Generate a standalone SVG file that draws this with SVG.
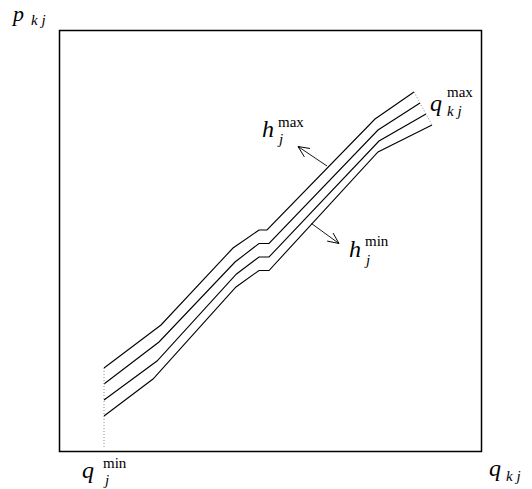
<svg xmlns="http://www.w3.org/2000/svg" width="532" height="489" viewBox="0 0 532 489">
<style>
.frame{fill:none;stroke:#000;stroke-width:1.5}
.curve{fill:none;stroke:#000;stroke-width:1.1;stroke-linejoin:miter}
.dot{fill:none;stroke:#888;stroke-width:1;stroke-dasharray:1,2}
.arr{fill:none;stroke:#000;stroke-width:0.9;marker-end:url(#head)}
.it{font-family:"Liberation Serif","Times New Roman",serif;font-style:italic;font-size:24px;fill:#000}
.sub{font-family:"Liberation Serif","Times New Roman",serif;font-style:italic;font-size:15px;fill:#000}
.sup{font-family:"Liberation Serif","Times New Roman",serif;font-size:15px;fill:#000}
</style>
<defs>
<marker id="head" markerUnits="userSpaceOnUse" markerWidth="14" markerHeight="12" refX="0" refY="0" viewBox="-12 -6 14 12" orient="auto">
<path d="M-11,-5 L0,0 L-11,5" fill="none" stroke="#000" stroke-width="0.9"/>
</marker>
</defs>
<g id="frame"><rect class="frame" x="59.5" y="30.5" width="422" height="421"/></g>
<g id="curves">
<polyline class="curve" points="104,368 161,325 233,248 259,230 267,230 375,119 414,92"/>
<polyline class="curve" points="104,384 159,342 235,262 259,243.5 269,243.5 378,130 420,103"/>
<polyline class="curve" points="104,400 157,361 236.5,274 259,257 269,257 379,141 426,114"/>
<polyline class="curve" points="104,416 153,379 236,287 259,270.5 269,270.5 378,152 432,125"/>
</g>
<g id="connectors">
<line class="dot" x1="104" y1="368" x2="104" y2="448"/>
<polyline class="dot" points="414,92 420,103 426,114 432,125"/>
<line class="arr" x1="327" y1="166" x2="298" y2="146.5"/>
<line class="arr" x1="311.5" y1="223.5" x2="339" y2="243.5"/>
</g>
<g id="label-p">
<text class="it" x="13" y="21" style="font-size:22px">p</text><text class="sub" x="31" y="25">k j</text>
</g>
<g id="label-qmax">
<text class="it" x="430" y="111">q</text><text class="sup" x="447" y="97">max</text><text class="sub" x="447" y="116">k j</text>
</g>
<g id="label-hmax">
<text class="it" x="262" y="137">h</text><text class="sup" x="278" y="127">max</text><text class="sub" x="279" y="144">j</text>
</g>
<g id="label-hmin">
<text class="it" x="349" y="257">h</text><text class="sup" x="365" y="246">min</text><text class="sub" x="366" y="265">j</text>
</g>
<g id="label-qmin">
<text class="it" x="82" y="478">q</text><text class="sup" x="103" y="468">min</text><text class="sub" x="105" y="485">j</text>
</g>
<g id="label-qkj">
<text class="it" x="489" y="476">q</text><text class="sub" x="506" y="481">k j</text>
</g>
</svg>
